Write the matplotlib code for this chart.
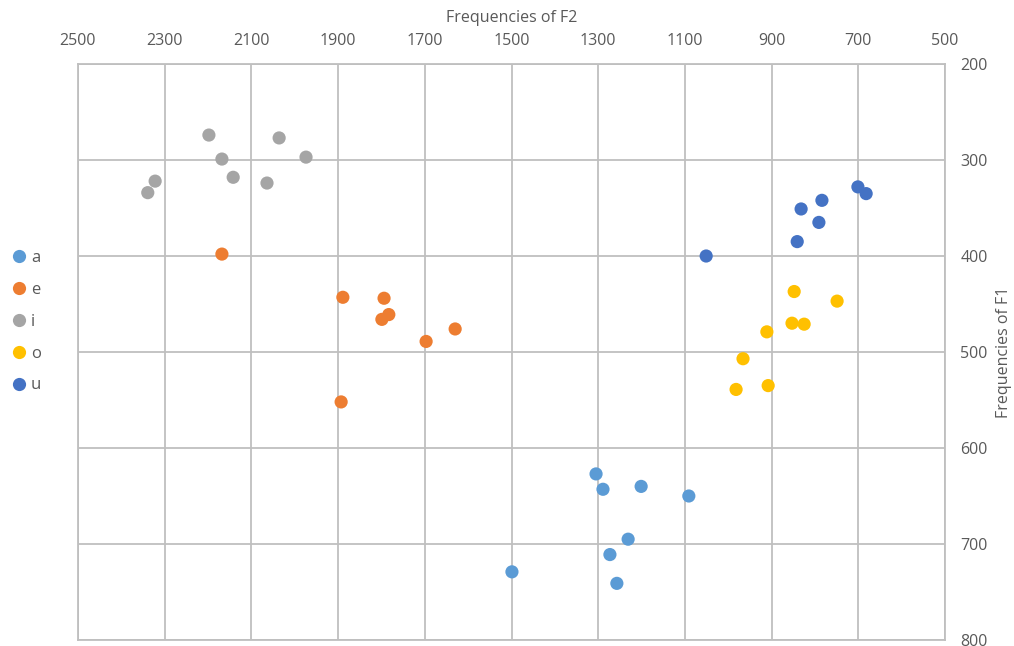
import matplotlib.pyplot as plt
from matplotlib.lines import Line2D

plt.rcParams['font.family'] = ['Open Sans', 'DejaVu Sans']

# formant data per vowel: F2 (x), F1 (y)
a_f2 = [1305, 1289, 1201, 1091, 1231, 1273, 1257, 1499]
a_f1 = [627, 643, 640, 650, 695, 711, 741, 729]
e_f2 = [2168, 1889, 1794, 1783, 1799, 1630, 1697, 1893]
e_f1 = [398, 443, 444, 461, 466, 476, 489, 552]
i_f2 = [2198, 2168, 2036, 1974, 2142, 2064, 2322, 2339]
i_f1 = [274, 299, 277, 297, 318, 324, 322, 334]
o_f2 = [848, 749, 853, 825, 911, 966, 982, 908]
o_f1 = [437, 447, 470, 471, 479, 507, 539, 535]
u_f2 = [701, 682, 784, 832, 791, 841, 1051]
u_f1 = [328, 335, 342, 351, 365, 385, 400]

labels = ['a', 'e', 'i', 'o', 'u']
colors = ['#5B9BD5', '#ED7D31', '#A5A5A5', '#FFC000', '#4472C4']
series = [(a_f2, a_f1), (e_f2, e_f1), (i_f2, i_f1), (o_f2, o_f1), (u_f2, u_f1)]

fig = plt.figure(figsize=(10.14, 6.46), dpi=100)
ax = fig.add_axes([0.0769, 0.0093, 0.8551, 0.8916])

for (x, y), c in zip(series, colors):
    ax.scatter(x, y, s=90, color=c, edgecolors='none', zorder=3)

ax.set_xlim(2500, 500)
ax.set_ylim(800, 200)
ax.set_xticks(range(2500, 499, -200))
ax.set_yticks(range(200, 801, 100))
ax.xaxis.tick_top()
ax.yaxis.tick_right()
ax.xaxis.set_label_position('top')
ax.yaxis.set_label_position('right')
ax.grid(True, color='#BFBFBF', linewidth=1.3, zorder=0)
ax.set_axisbelow(True)
for sp in ax.spines.values():
    sp.set_color('#BFBFBF')
    sp.set_linewidth(1.3)
ax.tick_params(length=0, labelsize=11.5, labelcolor='#595959', pad=11)
ax.set_xlabel('Frequencies of F2', fontsize=11.5, color='#595959', labelpad=8)
ax.set_ylabel('Frequencies of F1', fontsize=11.5, color='#595959', labelpad=6)

handles = [Line2D([], [], marker='o', linestyle='none', markersize=9.5,
                  markerfacecolor=c, markeredgecolor='none') for c in colors]
fig.legend(handles, labels, loc='upper left', bbox_to_anchor=(-0.004, 0.636),
           frameon=False, fontsize=12, labelcolor='#595959',
           handletextpad=0.2, labelspacing=0.95, handlelength=1.0)

fig.savefig('out.png', dpi=100)
